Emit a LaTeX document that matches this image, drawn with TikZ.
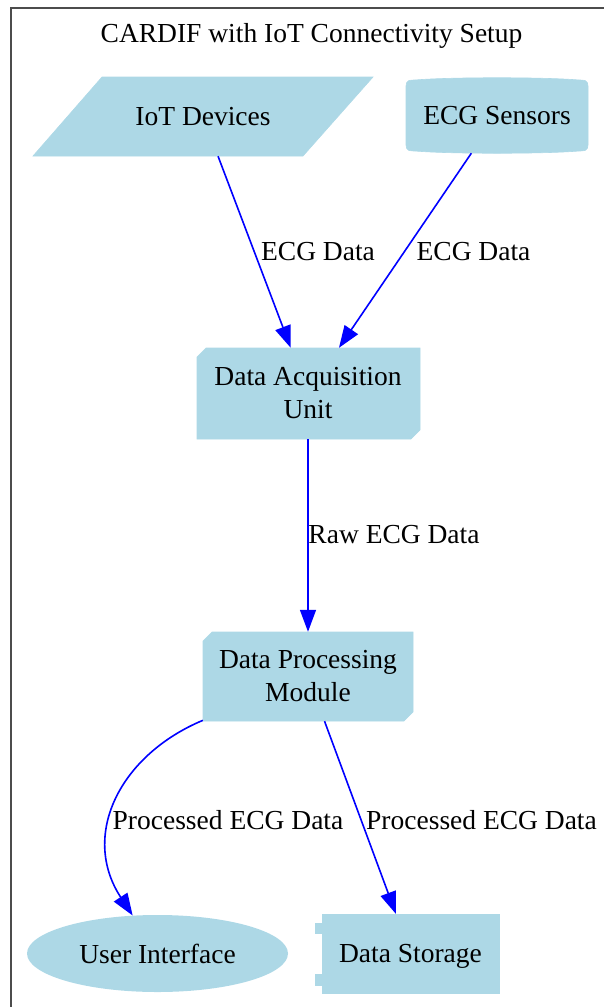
\documentclass[tikz,border=0pt]{standalone}
\usepackage{fontspec}
\setmainfont{Liberation Serif}
\usetikzlibrary{arrows.meta,shapes.geometric}
\definecolor{nodefill}{HTML}{ADD8E6}
\definecolor{edgeblue}{HTML}{0000FF}
\tikzset{
  txt/.style={font=\fontsize{27.5}{33}\selectfont, text=black, inner sep=0pt, align=center},
  holder/.style={txt, rectangle, draw=none},
  shapefill/.style={fill=nodefill, draw=nodefill, line width=0.6pt},
  flow/.style={draw=edgeblue, line width=1.6pt, -{Triangle[length=22pt,width=16pt]}},
  lbl/.style={txt}
}
\begin{document}
\begin{tikzpicture}[x=1pt,y=-1pt]
\path[use as bounding box] (0,0) rectangle (604,1007);
\clip (0,0) rectangle (604,1007);
% frame
\draw[line width=1.4pt, draw=black!70] (11,1030) -- (11,8) -- (640,8);
% title
\node[txt] (title) at (311.5,36) {CARDIF with IoT Connectivity Setup};
% shapes
\fill[shapefill] (102,77) -- (373,77) -- (303,156) -- (33,156) -- cycle;
\fill[shapefill] (406,86) .. controls (406,80) and (410,80) .. (415,80)
  .. controls (450,77) and (544,77) .. (579,80)
  .. controls (584,80) and (588,80) .. (588,86)
  -- (588,145) .. controls (588,151) and (584,151) .. (579,151)
  .. controls (544,154) and (450,154) .. (415,151)
  .. controls (410,151) and (406,151) .. (406,145) -- cycle;
\fill[shapefill] (206,348) -- (420,348) -- (420,430) -- (411,439) -- (197,439) -- (197,357) -- cycle;
\fill[shapefill] (212,632) -- (413,632) -- (413,712) -- (404,721) -- (203,721) -- (203,641) -- cycle;
\fill[shapefill] (322,914) rectangle (499,993);
\fill[shapefill] (315,923) rectangle (323,933);
\fill[shapefill] (315,974) rectangle (323,985);
% nodes
\node[holder, minimum width=200pt, minimum height=79pt] (iot) at (203,116.5) {IoT Devices};
\node[holder, minimum width=182pt, minimum height=75pt] (ecg) at (497,115.5) {ECG Sensors};
\node[holder, minimum width=223pt, minimum height=91pt] (dau) at (308,393.5) {Data Acquisition\\Unit};
\node[holder, minimum width=210pt, minimum height=89pt] (dpm) at (308,676.5) {Data Processing\\Module};
\node[txt, ellipse, fill=nodefill, minimum width=261pt, minimum height=77pt] (ui) at (157.5,953.5) {User Interface};
\node[holder, minimum width=177pt, minimum height=79pt, text depth=0pt] (ds) at (410.5,953.5) {Data Storage};
% connectors
\draw[flow] (iot) -- (dau);
\draw[flow] (ecg) -- (dau);
\draw[flow] (dau) -- (dpm);
\draw[flow] (dpm) .. controls (120,755) and (80,835) .. (ui);
\draw[flow] (dpm) -- (ds);
% labels
\node[lbl] (l1) at (318,252) {ECG Data};
\node[lbl] (l2) at (473.5,252) {ECG Data};
\node[lbl] (l3) at (394,535) {Raw ECG Data};
\node[lbl] (l4) at (228,820) {Processed ECG Data};
\node[lbl] (l5) at (481.5,820) {Processed ECG Data};
\end{tikzpicture}
\end{document}
